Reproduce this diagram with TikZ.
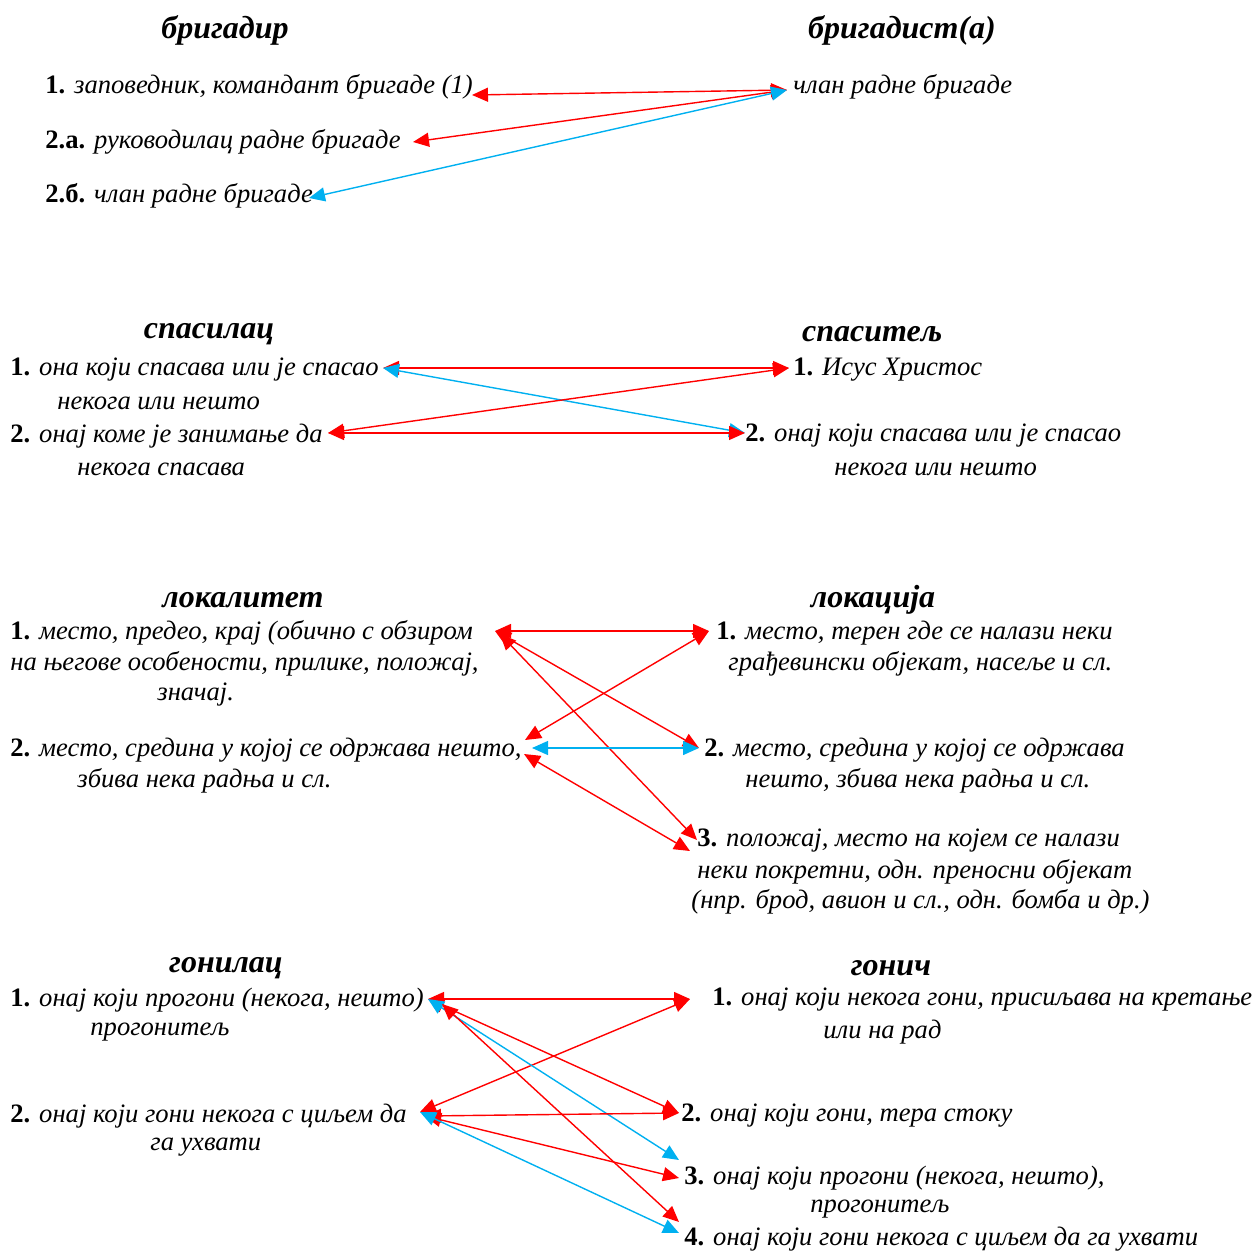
\documentclass[tikz,border=0pt]{standalone}
\usepackage{fontspec}
\setmainfont{Liberation Serif}[Script=Cyrillic,Language=Serbian]
\usetikzlibrary{arrows.meta}
\definecolor{sky}{RGB}{0,176,240}
\newcommand{\nmb}[1]{\textbf{\textup{#1}}}

\begin{document}
\begin{tikzpicture}[x=0.5pt,y=-0.5pt,
 txt/.style={anchor=west,inner sep=0pt,yshift=-1pt,font=\fontsize{13.3}{15}\selectfont\itshape},
 ttl/.style={inner sep=0pt,yshift=-1pt,font=\fontsize{16}{19}\selectfont\bfseries\itshape},
 rd/.style={red,line width=0.7pt},
 bl/.style={sky,line width=0.7pt},
 >={Triangle[length=8pt,width=7pt]}]
\useasboundingbox (0,0) rectangle (1256,1251);
% бригадир
\node[ttl] (T1) at (225,28) {бригадир};
\node[ttl] (T2) at (902,28) {бригадист(а)};
\node[txt] (A1) at (45,85) {\nmb{1.} заповедник, командант бригаде (1)};
\node[txt] (A2) at (45,140) {\nmb{2.а.} руководилац радне бригаде};
\node[txt] (A3) at (45,194) {\nmb{2.б.} члан радне бригаде};
\node[txt] (B1) at (793,85) {члан радне бригаде};
\coordinate (a1) at (472,95);
\coordinate (a2) at (413,142);
\coordinate (a3) at (309,198);
\coordinate (b1) at (787,90);
\path[<->]
(b1) edge[rd] (a1)
(b1) edge[rd] (a2)
(b1) edge[bl] (a3);
% спасилац
\node[ttl] (T3) at (209,332) {спасилац};
\node[ttl] (T4) at (872,332) {спаситељ};
\node[txt] (C1) at (10,368) {\nmb{1.} она који спасава или је спасао};
\node[txt] (C1b) at (57,401) {некога или нешто};
\node[txt] (C2) at (10,434) {\nmb{2.} онај коме је занимање да};
\node[txt] (C2b) at (77,467) {некога спасава};
\node[txt] (D1) at (793,368) {\nmb{1.} Исус Христос};
\node[txt] (D2) at (745,434) {\nmb{2.} онај који спасава или је спасао};
\node[txt] (D2b) at (834,467) {некога или нешто};
\coordinate (c1) at (383,368);
\coordinate (c2) at (328,433);
\coordinate (d1) at (789,368);
\coordinate (d2) at (745,433);
\path[<->]
(c1) edge[rd] (d1)
(c1) edge[bl] (d2)
(d1) edge[rd] (c2)
(c2) edge[rd] (d2);
% локалитет
\node[ttl] (T5) at (243,598) {локалитет};
\node[ttl] (T6) at (873,598) {локација};
\node[txt] (E1) at (10,631) {\nmb{1.} место, предео, крај (обично с обзиром};
\node[txt] (E1b) at (10,662) {на његове особености, прилике, положај,};
\node[txt] (E1c) at (157,693) {значај.};
\node[txt] (E2) at (10,748) {\nmb{2.} место, средина у којој се одржава нешто,};
\node[txt] (E2b) at (77,779) {збива нека радња и сл.};
\node[txt] (F1) at (716,631) {\nmb{1.} место, терен где се налази неки};
\node[txt] (F1b) at (728,662) {грађевински објекат, насеље и сл.};
\node[txt] (F2) at (704,748) {\nmb{2.} место, средина у којој се одржава};
\node[txt] (F2b) at (745,779) {нешто, збива нека радња и сл.};
\node[txt] (F3) at (697,839) {\nmb{3.} положај, место на којем се налази};
\node[txt] (F3b) at (697,870) {неки покретни, одн. преносни објекат};
\node[txt] (F3c) at (691,900) {(нпр. брод, авион и сл., одн. бомба и др.)};
\coordinate (e1) at (495,631);
\coordinate (e1b) at (500,634);
\coordinate (e2) at (525,740);
\coordinate (e2b) at (532,748);
\coordinate (e2c) at (524,754);
\coordinate (f1) at (709,631);
\coordinate (f2) at (699,748);
\coordinate (f3) at (697,840);
\coordinate (f3b) at (690,851);
\path[<->]
(e1) edge[rd] (f1)
(f1) edge[rd] (e2)
(e1) edge[rd] (f2)
(e1b) edge[rd] (f3)
(e2b) edge[bl] (f2)
(e2c) edge[rd] (f3b);
% гонилац
\node[ttl] (T7) at (226,966) {гонилац};
\node[ttl] (T8) at (891,966) {гонич};
\node[txt] (G1) at (10,998) {\nmb{1.} онај који прогони (некога, нешто)};
\node[txt] (G1b) at (90,1030) {прогонитељ};
\node[txt] (G2) at (10,1114) {\nmb{2.} онај који гони некога с циљем да};
\node[txt] (G2b) at (150,1145) {га ухвати};
\node[txt] (H1) at (712,998) {\nmb{1.} онај који некога гони, присиљава на кретање};
\node[txt] (H1b) at (823,1030) {или на рад};
\node[txt] (H2) at (681,1114) {\nmb{2.} онај који гони, тера стоку};
\node[txt] (H3) at (684,1176) {\nmb{3.} онај који прогони (некога, нешто),};
\node[txt] (H3b) at (810,1207) {прогонитељ};
\node[txt] (H4) at (684,1237) {\nmb{4.} онај који гони некога с циљем да га ухвати};
\coordinate (g1) at (428,999);
\coordinate (g1b) at (442,1004);
\coordinate (g2) at (420,1112);
\coordinate (g2b) at (425,1116);
\coordinate (h1) at (690,999);
\coordinate (h2) at (679,1113);
\coordinate (h3) at (679,1160);
\coordinate (h3b) at (679,1178);
\coordinate (h4) at (679,1222);
\coordinate (h4b) at (679,1233);
\path[<->]
(g1) edge[rd] (h1)
(h1) edge[rd] (g2)
(g1) edge[rd] (h2)
(g1) edge[bl] (h3)
(g1b) edge[rd] (h4)
(g2b) edge[rd] (h2)
(g2b) edge[rd] (h3b)
(g2) edge[bl] (h4b);
\end{tikzpicture}
\end{document}
